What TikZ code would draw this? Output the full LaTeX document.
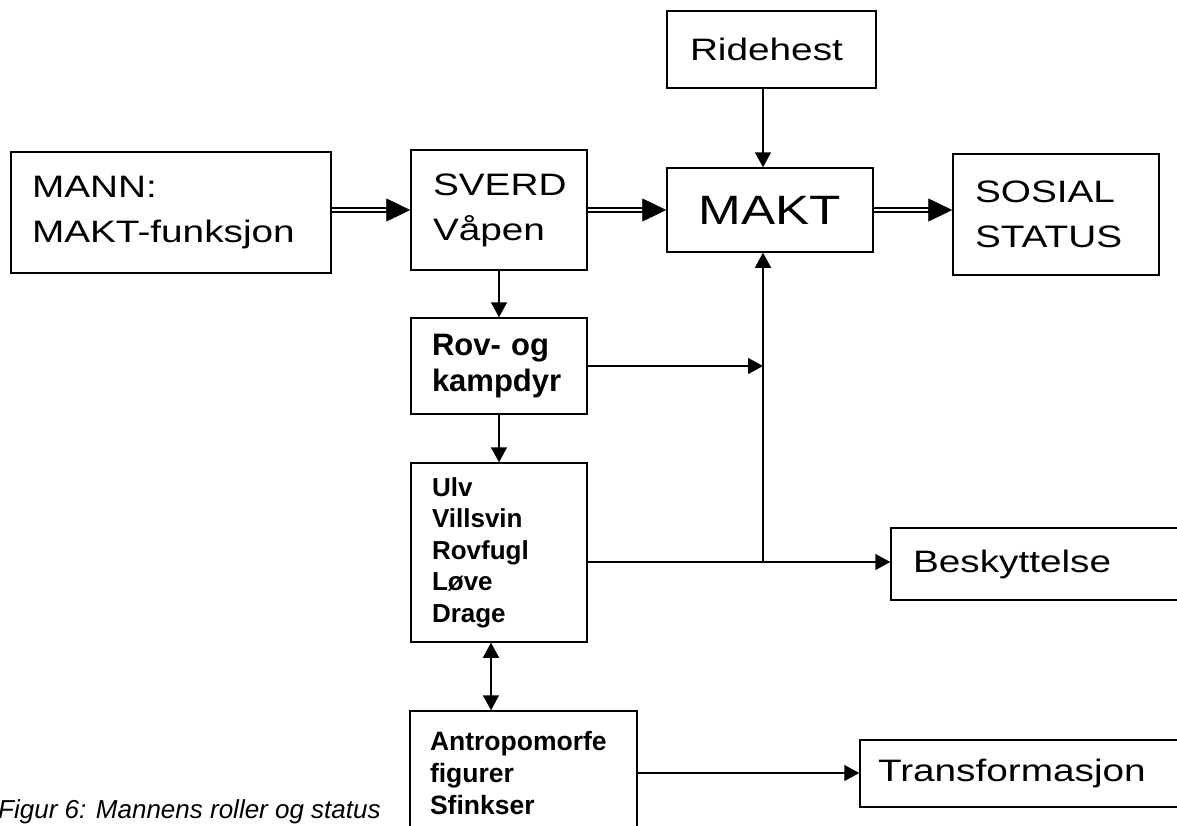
\documentclass[tikz,border=0pt]{standalone}
\usepackage{fontspec}
\setmainfont{Liberation Sans}
\newfontfamily\widefont[FakeStretch=1.25]{Liberation Sans}
\usetikzlibrary{arrows.meta}
\tikzset{
  box/.style={draw, line width=1.5pt, inner sep=0pt, align=left},
  plain/.style={font=\widefont\fontsize{31}{45}\selectfont},
  arr/.style={line width=1.5pt, -{Triangle[length=15pt,width=16pt]}},
  twoarr/.style={line width=1.5pt, {Triangle[length=15pt,width=16pt]}-{Triangle[length=15pt,width=16pt]}},
  dbl/.style={double, double distance=2.6pt, line width=1.7pt, shorten >=20pt},
  bigtip/.style={line width=0.5pt, -{Triangle[length=24pt,width=23pt]}}
}
\begin{document}
\begin{tikzpicture}[x=1pt,y=-1pt]
\useasboundingbox (0,0) rectangle (1177,825);
\clip (0,0) rectangle (1177,825);

\node[box, plain, minimum width=320, minimum height=121, text width=278] (mann) at (171,212.5) {MANN:\\MAKT-funksjon};
\node[box, plain, minimum width=176, minimum height=120, text width=132] (sverd) at (499,210) {SVERD\\Våpen};
\node[box, font=\widefont\fontsize{41}{50}\selectfont, align=center, minimum width=206, minimum height=84] (makt) at (770,210) {MAKT};
\node[box, plain, minimum width=206, minimum height=121, text width=162] (sosial) at (1056,214.5) {SOSIAL\\STATUS};
\node[box, plain, minimum width=209, minimum height=77, text width=163] (ride) at (771.5,49.5) {Ridehest};
\node[box, font=\bfseries\fontsize{31}{36}\selectfont, minimum width=176, minimum height=96, text width=134] (rov) at (499,366) {Rov- og\\kampdyr};
\node[box, font=\bfseries\fontsize{26}{31.5}\selectfont, minimum width=176, minimum height=179, text width=134] (ulv) at (499,552.5) {Ulv\\Villsvin\\Rovfugl\\Løve\\Drage};
\node[box, font=\bfseries\fontsize{26.5}{32}\selectfont, minimum width=227, minimum height=124, text width=187] (antro) at (523.5,773) {Antropomorfe\\figurer\\Sfinkser};
\node[box, plain, minimum width=320, minimum height=72, text width=276] (besk) at (1051,564) {Beskyttelse};
\node[box, plain, minimum width=340, minimum height=67, text width=304] (trans) at (1030,773.5) {Transformasjon};

\node[font=\itshape\fontsize{26}{30}\selectfont, anchor=base west, inner sep=0pt] (cap) at (-2,818) {Figur 6: Mannens roller og status};

\coordinate (jx) at (763,562);
\coordinate (dx) at (491,642);

% double arrows
\draw[dbl] (mann.east |- sverd.west) -- (sverd.west);
\draw[bigtip] ([xshift=-24pt]sverd.west) -- (sverd.west);
\draw[dbl] (sverd.east) -- (makt.west);
\draw[bigtip] ([xshift=-24pt]makt.west) -- (makt.west);
\draw[dbl] (makt.east) -- (makt.east -| sosial.west);
\draw[bigtip] ([xshift=-24pt]makt.east -| sosial.west) -- (makt.east -| sosial.west);

% single arrows
\draw[arr] (ride.south -| jx) -- (makt.north -| jx);
\draw[arr] (sverd.south) -- (rov.north);
\draw[arr] (rov.east) -- (rov.east -| jx);
\draw[arr] (rov.south) -- (ulv.north);
\draw[arr] (ulv.east |- jx) -- (besk.west |- jx);
\draw[arr] (jx) -- (makt.south -| jx);
\draw[twoarr] (ulv.south -| dx) -- (antro.north -| dx);
\draw[arr] (antro.east) -- (antro.east -| trans.west);
\end{tikzpicture}
\end{document}
